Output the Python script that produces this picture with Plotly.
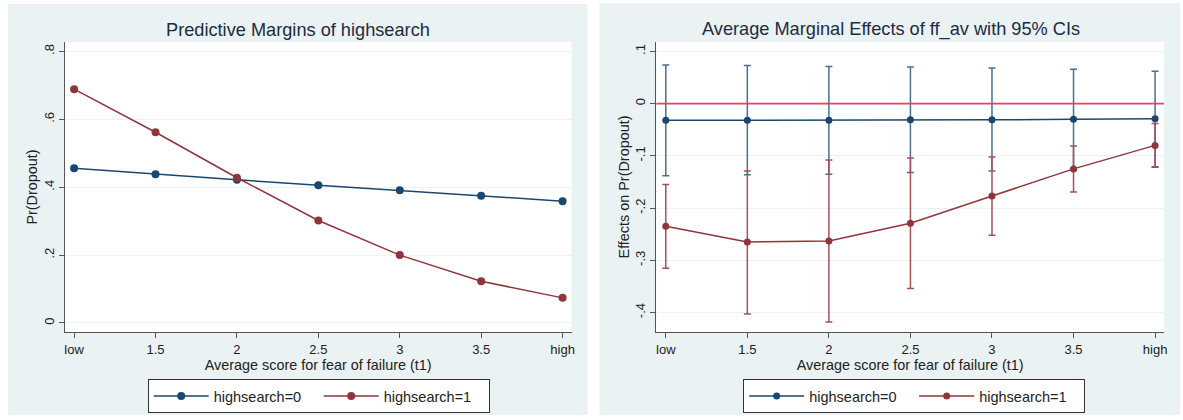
import plotly.graph_objects as go

# Fear-of-failure score levels (1 = low, 4 = high)
ff_levels = [1, 1.5, 2, 2.5, 3, 3.5, 4]
ff_ticktext = ["low", "1.5", "2", "2.5", "3", "3.5", "high"]

# Predictive margins: Pr(Dropout) by highsearch group
margin_hs0 = [0.456, 0.438, 0.422, 0.406, 0.391, 0.375, 0.359]
margin_hs1 = [0.689, 0.562, 0.428, 0.302, 0.200, 0.123, 0.074]

# Average marginal effects of ff_av with 95% CIs
ame_hs0 = [-0.032, -0.032, -0.032, -0.031, -0.031, -0.030, -0.029]
ame_hs0_hi = [0.074, 0.073, 0.071, 0.070, 0.068, 0.066, 0.062]
ame_hs0_lo = [-0.138, -0.136, -0.135, -0.132, -0.129, -0.127, -0.121]
ame_hs1 = [-0.235, -0.265, -0.263, -0.229, -0.177, -0.125, -0.080]
ame_hs1_hi = [-0.155, -0.129, -0.108, -0.104, -0.102, -0.081, -0.038]
ame_hs1_lo = [-0.315, -0.403, -0.418, -0.354, -0.252, -0.169, -0.122]

left_yticks = [0, 0.2, 0.4, 0.6, 0.8]
left_yticktext = ["0", ".2", ".4", ".6", ".8"]
right_yticks = [-0.4, -0.3, -0.2, -0.1, 0, 0.1]
right_yticktext = ["-.4", "-.3", "-.2", "-.1", "0", ".1"]

NAVY = "#1A476F"
MAROON = "#90353B"
PANEL_BG = "#EAF2F3"
FONT = "Liberation Sans, Arial, sans-serif"
W, H = 1183, 420


def px_x(v):
    return v / W


def px_y(v):
    return 1 - v / H


fig = go.Figure()

# Left panel: predictive margins
fig.add_trace(go.Scatter(
    x=ff_levels, y=margin_hs0, mode="lines+markers", name="highsearch=0",
    line=dict(color=NAVY, width=1.5), marker=dict(color=NAVY, size=8),
    xaxis="x", yaxis="y", legend="legend"))
fig.add_trace(go.Scatter(
    x=ff_levels, y=margin_hs1, mode="lines+markers", name="highsearch=1",
    line=dict(color=MAROON, width=1.5), marker=dict(color=MAROON, size=8),
    xaxis="x", yaxis="y", legend="legend"))


def ci_arrays(center, hi, lo):
    plus = [h - c for h, c in zip(hi, center)]
    minus = [c - l for c, l in zip(center, lo)]
    return plus, minus


p0, m0 = ci_arrays(ame_hs0, ame_hs0_hi, ame_hs0_lo)
p1, m1 = ci_arrays(ame_hs1, ame_hs1_hi, ame_hs1_lo)

# Right panel: marginal effects with confidence intervals
fig.add_trace(go.Scatter(
    x=ff_levels, y=ame_hs0, mode="lines+markers", name="highsearch=0",
    line=dict(color=NAVY, width=1.5), marker=dict(color=NAVY, size=7),
    error_y=dict(type="data", symmetric=False, array=p0, arrayminus=m0,
                 color="#4A6F92", thickness=1.5, width=3.5),
    xaxis="x2", yaxis="y2", legend="legend2"))
fig.add_trace(go.Scatter(
    x=ff_levels, y=ame_hs1, mode="lines+markers", name="highsearch=1",
    line=dict(color=MAROON, width=1.5), marker=dict(color=MAROON, size=7),
    error_y=dict(type="data", symmetric=False, array=p1, arrayminus=m1,
                 color="#A85058", thickness=1.5, width=3.5),
    xaxis="x2", yaxis="y2", legend="legend2"))

axis_common = dict(
    showline=True, linecolor="#555555", linewidth=1,
    ticks="outside", ticklen=5, tickcolor="#555555", tickwidth=1,
    tickfont=dict(family=FONT, size=13, color="#222222"),
    zeroline=False, mirror=False,
)
title_font = dict(family=FONT, size=14.4, color="#222222")

xdom_left = [px_x(65), px_x(573)]
xdom_right = [px_x(658), px_x(1167)]
ydom = [px_y(332), px_y(42)]

legend_common = dict(
    orientation="h", y=px_y(379), yanchor="top", bgcolor="white",
    bordercolor="#333333", borderwidth=1, itemwidth=55, entrywidth=100,
    font=dict(family=FONT, size=14.5, color="#222222"),
    itemclick=False, tracegroupgap=0,
)

fig.update_layout(
    width=W, height=H,
    margin=dict(l=0, r=0, t=0, b=0),
    paper_bgcolor="white", plot_bgcolor="white",
    font=dict(family=FONT, color="#222222"),
    xaxis=dict(domain=xdom_left, range=[0.943, 4.055], tickvals=ff_levels,
               ticktext=ff_ticktext, showgrid=False, anchor="y",
               title=dict(text="Average score for fear of failure (t1)",
                          font=title_font, standoff=1),
               **axis_common),
    yaxis=dict(domain=ydom, range=[-0.0266, 0.828], tickvals=left_yticks,
               ticktext=left_yticktext, tickangle=-90, showgrid=True,
               gridcolor=PANEL_BG, gridwidth=1, anchor="x",
               title=dict(text="Pr(Dropout)", font=title_font, standoff=0),
               **axis_common),
    xaxis2=dict(domain=xdom_right, range=[0.942, 4.055], tickvals=ff_levels,
                ticktext=ff_ticktext, showgrid=False, anchor="y2",
                title=dict(text="Average score for fear of failure (t1)",
                           font=title_font, standoff=1),
                **axis_common),
    yaxis2=dict(domain=ydom, range=[-0.4373, 0.118], tickvals=right_yticks,
                ticktext=right_yticktext, tickangle=-90, showgrid=True,
                gridcolor=PANEL_BG, gridwidth=1, anchor="x2",
                title=dict(text="Effects on Pr(Dropout)", font=title_font, standoff=0),
                **axis_common),
    legend=dict(x=px_x(319.5), xanchor="center", **legend_common),
    legend2=dict(x=px_x(916.5), xanchor="center", **legend_common),
    showlegend=True,
)

# Panel backgrounds
fig.add_shape(type="rect", xref="paper", yref="paper", layer="below",
              x0=px_x(8), x1=px_x(589), y0=px_y(415), y1=px_y(4),
              fillcolor=PANEL_BG, line=dict(width=0))
fig.add_shape(type="rect", xref="paper", yref="paper", layer="below",
              x0=px_x(601), x1=px_x(1183), y0=px_y(415), y1=px_y(3),
              fillcolor=PANEL_BG, line=dict(width=0))
# White plot regions on top of the panel backgrounds
fig.add_shape(type="rect", xref="paper", yref="paper", layer="below",
              x0=xdom_left[0], x1=xdom_left[1], y0=ydom[0], y1=ydom[1],
              fillcolor="white", line=dict(width=0))
fig.add_shape(type="rect", xref="paper", yref="paper", layer="below",
              x0=xdom_right[0], x1=xdom_right[1], y0=ydom[0], y1=ydom[1],
              fillcolor="white", line=dict(width=0))

# Reference line at zero effect
fig.add_shape(type="line", xref="x2 domain", yref="y2", x0=0, x1=1, y0=0, y1=0,
              line=dict(color="#DE4660", width=1.6), layer="above")

# Panel titles
title_style = dict(family=FONT, size=18.2, color="#1E2B45")
fig.add_annotation(text="Predictive Margins of highsearch", xref="paper", yref="paper",
                   x=px_x(298.5), y=px_y(30), xanchor="center", yanchor="middle",
                   showarrow=False, font=title_style)
fig.add_annotation(text="Average Marginal Effects of ff_av with 95% CIs", xref="paper",
                   yref="paper", x=px_x(893), y=px_y(30), xanchor="center",
                   yanchor="middle", showarrow=False, font=title_style)

fig.write_html("out.html")
